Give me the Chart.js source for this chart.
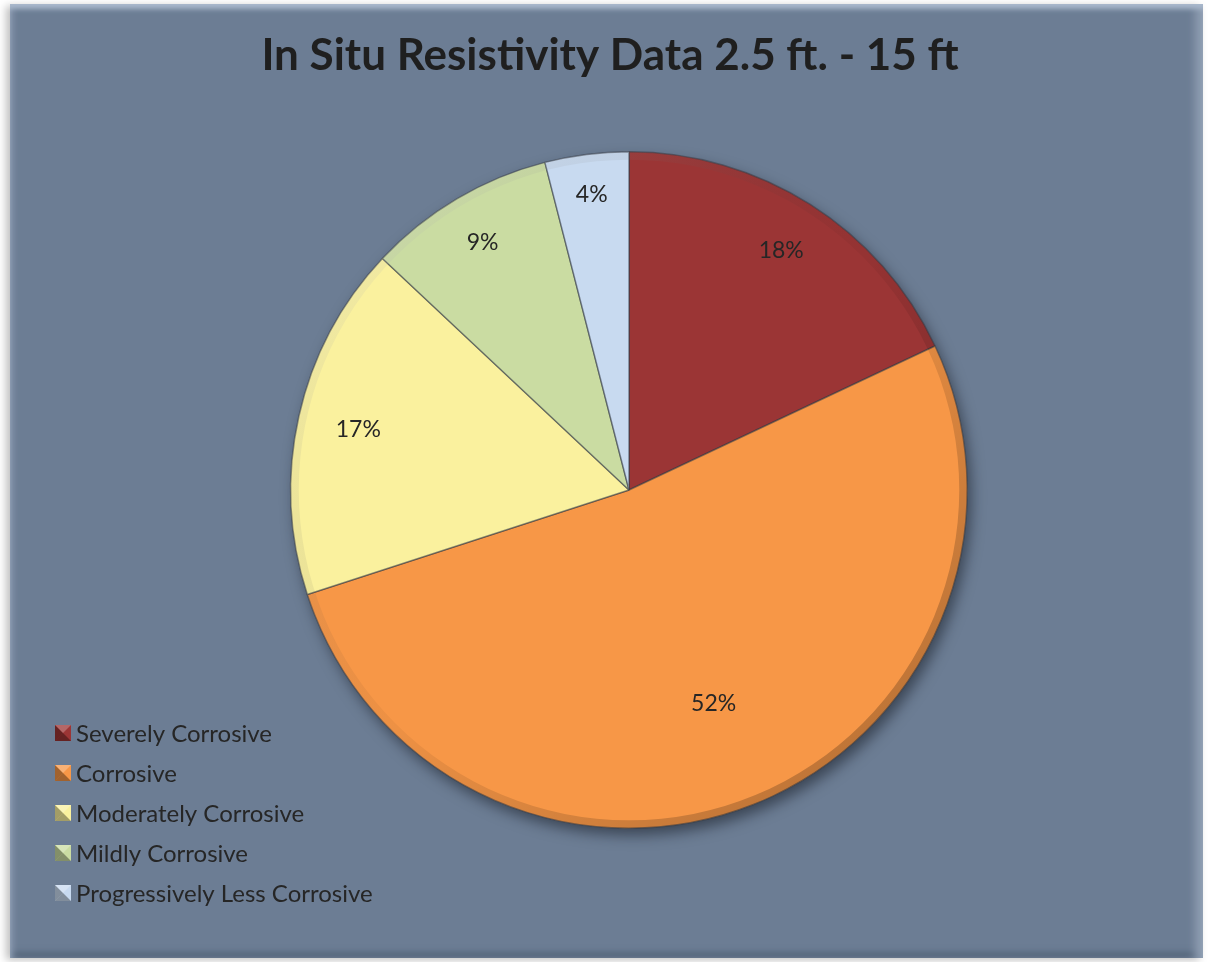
<!DOCTYPE html>
<html>
<head>
<meta charset="utf-8">
<script src="https://cdn.jsdelivr.net/npm/chart.js@4.4.1/dist/chart.umd.min.js"></script>
<style>
	html, body { margin: 0; padding: 0; background: #ffffff; }
	#frame {
		position: absolute; left: 10px; top: 4px; width: 1193px; height: 954px;
		background: #6c7d94;
		box-shadow: inset 0 7px 5px -2px #a9b8cc, inset 6px 0 6px -3px #8a9ab0,
			inset -12px 0 8px -4px #8e9db1, inset 0 -10px 6px -4px #56667c,
			-4px 2px 8px rgba(0,0,0,0.25);
	}
	#frame canvas { position: absolute; left: 0; top: 0; }
</style>
</head>
<body>
<div id="frame"><canvas id="chart" width="1193" height="954"></canvas></div>
<script>
const title = 'In Situ Resistivity Data 2.5 ft. - 15 ft';
const categories = ['Severely Corrosive', 'Corrosive', 'Moderately Corrosive', 'Mildly Corrosive', 'Progressively Less Corrosive'];
const percents = [18, 52, 17, 9, 4];
const slice_colors = ['#9b3535', '#f79747', '#faf19e', '#cadca2', '#c8daf0'];
const label_radius = [0.84, 0.68, 0.82, 0.85, 0.88];

const text_color = '#262626';

// shadow under the pie and a soft bevel rim on top of it
const bevel_plugin = {
	id: 'bevel',
	beforeDatasetsDraw(chart){
		const arc = chart.getDatasetMeta(0).data[0];
		if(!arc) return;
		const ctx = chart.ctx;
		ctx.save();
		ctx.shadowColor = 'rgba(20,25,35,0.55)';
		ctx.shadowBlur = 14;
		ctx.shadowOffsetX = 4;
		ctx.shadowOffsetY = 7;
		ctx.beginPath();
		ctx.arc(arc.x, arc.y, arc.outerRadius, 0, Math.PI * 2);
		ctx.fillStyle = '#6c7d94';
		ctx.fill();
		ctx.restore();
	},
	afterDatasetsDraw(chart){
		const arc = chart.getDatasetMeta(0).data[0];
		if(!arc) return;
		const ctx = chart.ctx;
		const r = arc.outerRadius;
		ctx.save();
		const grad = ctx.createLinearGradient(arc.x - r, arc.y - r, arc.x + r, arc.y + r);
		grad.addColorStop(0, 'rgba(255,255,255,0.18)');
		grad.addColorStop(0.5, 'rgba(0,0,0,0.04)');
		grad.addColorStop(1, 'rgba(0,0,0,0.3)');
		ctx.beginPath();
		ctx.arc(arc.x, arc.y, r, 0, Math.PI * 2);
		ctx.arc(arc.x, arc.y, r - 8, 0, Math.PI * 2, true);
		ctx.fillStyle = grad;
		ctx.fill();
		ctx.restore();
	}
};

// percentage labels, title and legend
const text_plugin = {
	id: 'texts',
	afterDraw(chart){
		const ctx = chart.ctx;
		const meta = chart.getDatasetMeta(0);
		ctx.save();
		ctx.fillStyle = text_color;
		ctx.textAlign = 'center';
		ctx.textBaseline = 'middle';
		ctx.font = '23px Lato';
		meta.data.forEach(function(arc, i){
			const mid = (arc.startAngle + arc.endAngle) / 2;
			const rr = arc.outerRadius * label_radius[i];
			ctx.fillText(percents[i] + '%', arc.x + Math.cos(mid) * rr, arc.y + Math.sin(mid) * rr);
		});

		ctx.font = 'bold 44px Lato';
		ctx.fillStyle = '#1f1f1f';
		ctx.fillText(title, 600, 52);

		ctx.textAlign = 'left';
		ctx.font = '24px Lato';
		categories.forEach(function(name, i){
			const y = 729 + i * 40;
			const x = 45, s = 16;
			ctx.fillStyle = slice_colors[i];
			ctx.fillRect(x, y - s / 2, s, s);
			ctx.fillStyle = 'rgba(0,0,0,0.35)';
			ctx.beginPath();
			ctx.moveTo(x, y - s / 2); ctx.lineTo(x + s / 2, y); ctx.lineTo(x, y + s / 2); ctx.closePath();
			ctx.fill();
			ctx.beginPath();
			ctx.moveTo(x, y + s / 2); ctx.lineTo(x + s / 2, y); ctx.lineTo(x + s, y + s / 2); ctx.closePath();
			ctx.fill();
			ctx.fillStyle = 'rgba(255,255,255,0.25)';
			ctx.beginPath();
			ctx.moveTo(x, y - s / 2); ctx.lineTo(x + s / 2, y); ctx.lineTo(x + s, y - s / 2); ctx.closePath();
			ctx.fill();
			ctx.fillStyle = text_color;
			ctx.fillText(name, x + 21, y + 1);
		});
		ctx.restore();
	}
};

const ctx = document.getElementById('chart').getContext('2d');
new Chart(ctx, {
	type: 'pie',
	data: {
		labels: categories,
		datasets: [{
			data: percents,
			backgroundColor: slice_colors,
			borderColor: 'rgba(55,60,70,0.55)',
			borderWidth: 1.5
		}]
	},
	options: {
		responsive: false,
		animation: false,
		layout: { padding: { left: 280, top: 147, right: 235, bottom: 129 } },
		plugins: {
			legend: { display: false },
			title: { display: false },
			tooltip: { enabled: false }
		}
	},
	plugins: [bevel_plugin, text_plugin]
});
</script>
</body>
</html>
